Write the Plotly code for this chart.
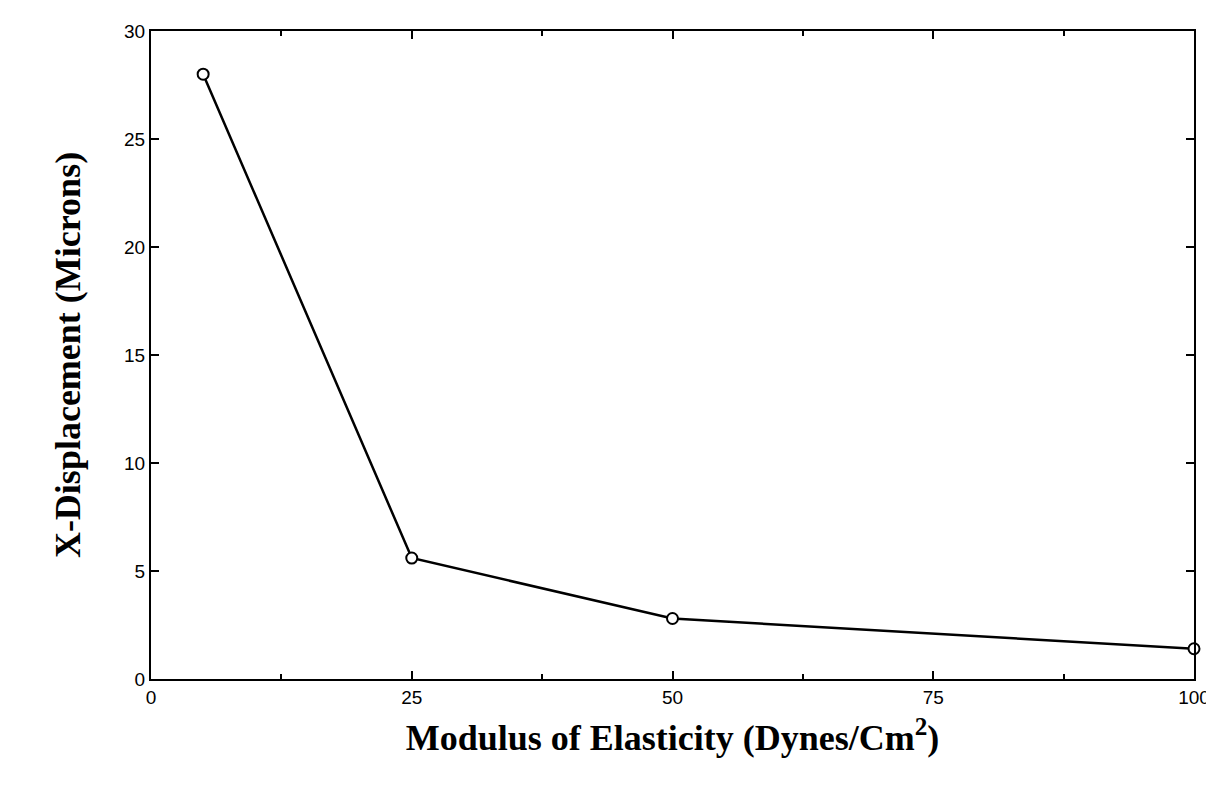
import plotly.graph_objects as go

modulus = [5, 25, 50, 100]
displacement = [28, 5.6, 2.8, 1.4]
x_ticks = [0, 25, 50, 75, 100]
y_ticks = [0, 5, 10, 15, 20, 25, 30]

fig = go.Figure(go.Scatter(
    x=modulus, y=displacement, mode="lines+markers",
    line=dict(color="black", width=2.5),
    marker=dict(symbol="circle", size=11, color="white", line=dict(color="black", width=2)),
    cliponaxis=False,
))
axis_common = dict(showgrid=False, zeroline=False, showline=True, linecolor="black", linewidth=2,
                   mirror="allticks", ticks="inside", ticklen=8, tickcolor="black", tickwidth=1.5,
                   tickfont=dict(family="Liberation Sans", size=19, color="black"))
fig.update_xaxes(range=[0, 100], tickvals=x_ticks,
                 minor=dict(dtick=12.5, tick0=0, ticks="inside", ticklen=5, tickcolor="black"),
                 title=dict(text="<b>Modulus of Elasticity (Dynes/Cm<sup>2</sup>)</b>",
                            font=dict(family="Liberation Serif", size=36, color="black"), standoff=18),
                 **axis_common)
fig.update_yaxes(range=[0, 30], tickvals=y_ticks,
                 title=dict(text="<b>X-Displacement (Microns)</b>",
                            font=dict(family="Liberation Serif", size=36, color="black"), standoff=32),
                 **axis_common)
fig.update_layout(width=1214, height=786, plot_bgcolor="white", paper_bgcolor="white",
                  margin=dict(l=143, r=18, t=23, b=115), showlegend=False)
fig.write_html("out.html")
